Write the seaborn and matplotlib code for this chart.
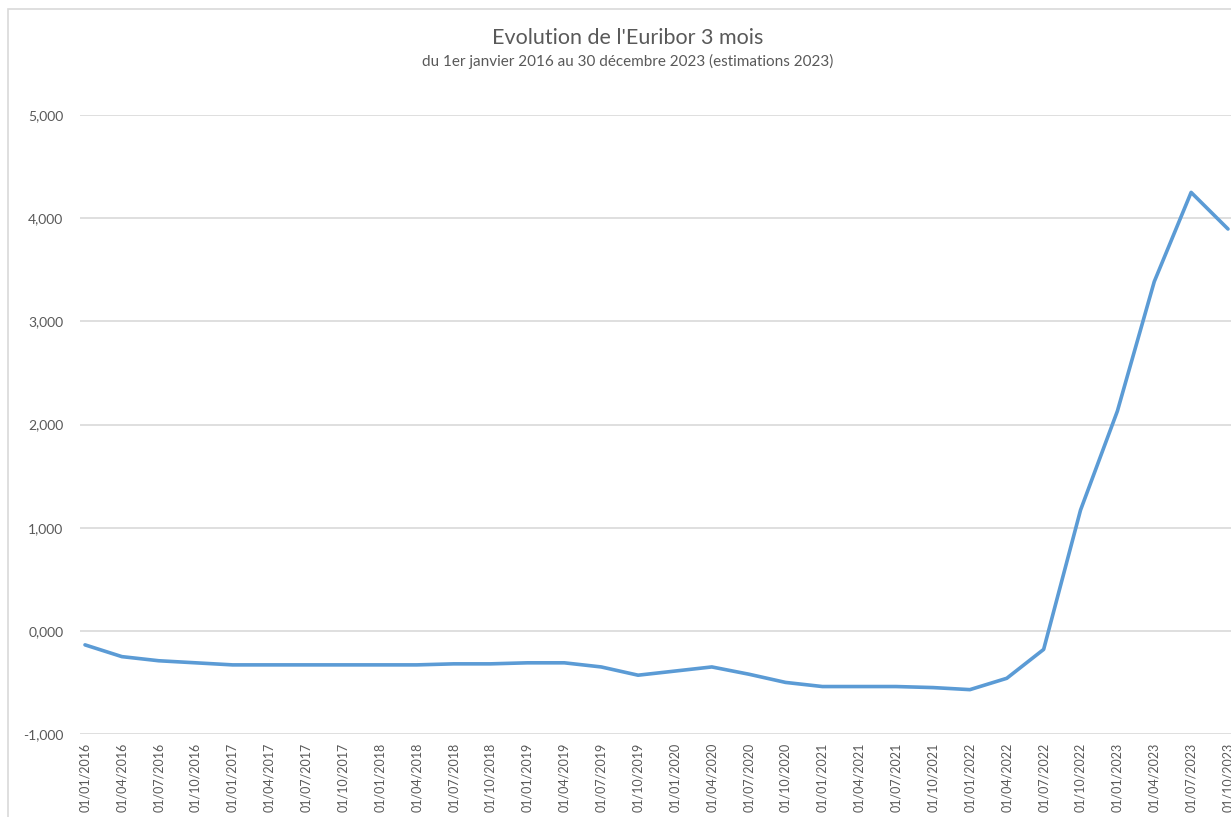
import matplotlib
matplotlib.use("Agg")
import matplotlib.pyplot as plt
import seaborn as sns
import pandas as pd
from matplotlib.patches import Rectangle
from matplotlib.ticker import FuncFormatter

dates = [
    "01/01/2016", "01/04/2016", "01/07/2016", "01/10/2016",
    "01/01/2017", "01/04/2017", "01/07/2017", "01/10/2017",
    "01/01/2018", "01/04/2018", "01/07/2018", "01/10/2018",
    "01/01/2019", "01/04/2019", "01/07/2019", "01/10/2019",
    "01/01/2020", "01/04/2020", "01/07/2020", "01/10/2020",
    "01/01/2021", "01/04/2021", "01/07/2021", "01/10/2021",
    "01/01/2022", "01/04/2022", "01/07/2022", "01/10/2022",
    "01/01/2023", "01/04/2023", "01/07/2023", "01/10/2023",
]
euribor = [
    -0.136, -0.25, -0.29, -0.31,
    -0.33, -0.33, -0.33, -0.33,
    -0.33, -0.33, -0.32, -0.32,
    -0.31, -0.31, -0.35, -0.43,
    -0.39, -0.35, -0.42, -0.50,
    -0.54, -0.54, -0.54, -0.55,
    -0.57, -0.46, -0.18, 1.17,
    2.13, 3.385, 4.25, 3.895,
]
yticks = [-1, 0, 1, 2, 3, 4, 5]

sns.set_theme(style="white")
plt.rcParams["font.family"] = ["Lato", "DejaVu Sans"]

W, H = 1231, 817
fig = plt.figure(figsize=(W / 100, H / 100), dpi=100)

# chart border
fig.patches.append(Rectangle((8 / W, -0.1), 1.2, 1 - 9 / H + 0.1, transform=fig.transFigure,
                             fill=False, edgecolor="#d9d9d9", linewidth=1.2))

ax = fig.add_axes([80 / W, (H - 734) / H, (W - 80) / W, (734 - 115) / H])
df = pd.DataFrame({"idx": range(len(dates)), "val": euribor})
sns.lineplot(data=df, x="idx", y="val", ax=ax, color="#5B9BD5", linewidth=2.6)

px = (1228 - 85) / 31
ax.set_xlim(-5 / px, 31 + 3 / px)
ax.set_ylim(-1, 5)
ax.set_yticks(yticks)
ax.yaxis.set_major_formatter(FuncFormatter(lambda v, p: f"{v:,.3f}".replace(".", ",")))
ax.set_xticks(range(len(dates)))
ax.set_xticklabels(dates, rotation=90)
ax.tick_params(axis="both", length=0, colors="#595959")
ax.tick_params(axis="y", pad=12, labelsize=10)
ax.tick_params(axis="x", pad=6, labelsize=9)
ax.grid(axis="y", color="#d9d9d9", linewidth=1.2)
ax.grid(axis="x", visible=False)
for s in ax.spines.values():
    s.set_visible(False)
ax.set_xlabel("")
ax.set_ylabel("")

fig.text(628 / W, 1 - 38 / H, "Evolution de l'Euribor 3 mois", ha="center", va="center",
         fontsize=15.5, color="#595959")
fig.text(628 / W, 1 - 61 / H, "du 1er janvier 2016 au 30 décembre 2023 (estimations 2023)",
         ha="center", va="center", fontsize=11, color="#595959")

fig.savefig("out.png", dpi=100)
